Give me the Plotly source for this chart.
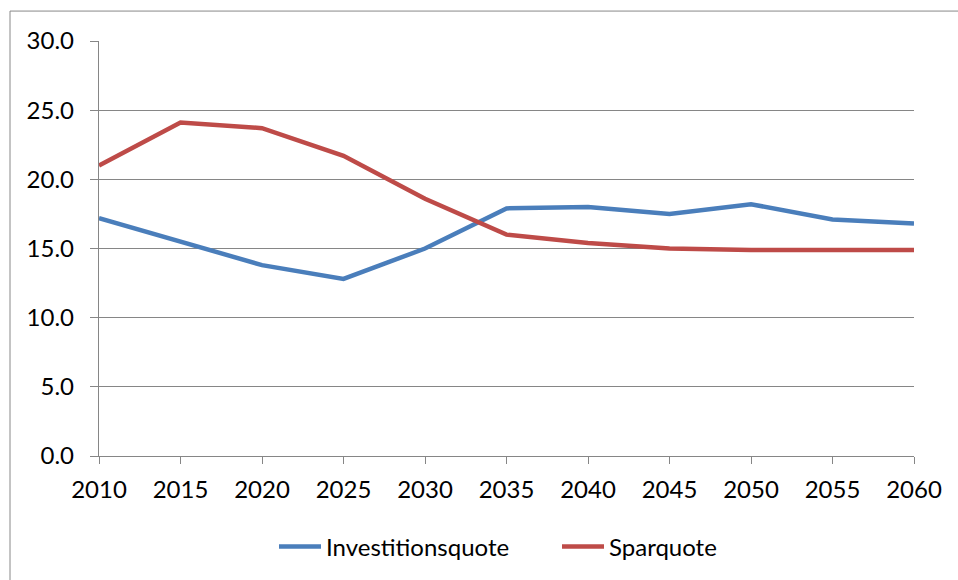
import plotly.graph_objects as go

years = [2010, 2015, 2020, 2025, 2030, 2035, 2040, 2045, 2050, 2055, 2060]
investitionsquote = [17.2, 15.5, 13.8, 12.8, 15.0, 17.9, 18.0, 17.5, 18.2, 17.1, 16.8]
sparquote = [21.0, 24.1, 23.7, 21.7, 18.6, 16.0, 15.4, 15.0, 14.9, 14.9, 14.9]
y_ticks = [0, 5, 10, 15, 20, 25, 30]

W, H = 958, 580
L, R, T, B = 99, 914, 41, 457
pw, ph = R - L, B - T

def px(x):
    return (x - L) / pw

def py(y):
    return (B - y) / ph

font = "Lato, 'Open Sans', sans-serif"

fig = go.Figure()
fig.add_trace(go.Scatter(x=years, y=investitionsquote, mode="lines", name="Investitionsquote",
                         line=dict(color="#4A7EBB", width=4.5)))
fig.add_trace(go.Scatter(x=years, y=sparquote, mode="lines", name="Sparquote",
                         line=dict(color="#BE4B48", width=4.5)))

fig.update_layout(
    width=W, height=H,
    margin=dict(l=L, r=W - R, t=T, b=H - B, pad=0),
    paper_bgcolor="white", plot_bgcolor="white",
    font=dict(family=font, size=24, color="#000000"),
    showlegend=True,
    legend=dict(orientation="h", x=px(274), xanchor="left", y=py(547), yanchor="middle",
                font=dict(size=24), itemwidth=42, entrywidth=226, entrywidthmode="pixels",
                tracegroupgap=0, bgcolor="rgba(0,0,0,0)"),
    xaxis=dict(range=[2010, 2060], tickvals=years, ticks="outside", ticklen=7,
               tickcolor="#868686", tickwidth=1.4, showgrid=False, showline=True,
               linecolor="#868686", linewidth=1.4, zeroline=False, tickfont=dict(size=24),
               ticklabelstandoff=5),
    yaxis=dict(range=[0, 30], tickvals=y_ticks, tickformat=".1f", ticks="outside", ticklen=8,
               tickcolor="#868686", tickwidth=1.4, showgrid=True, gridcolor="#868686",
               gridwidth=1.4, showline=True, linecolor="#868686", linewidth=1.4,
               zeroline=False, tickfont=dict(size=24), ticklabelstandoff=11),
    shapes=[
        dict(type="line", xref="paper", yref="paper", x0=px(10), x1=px(960), y0=py(11), y1=py(11),
             line=dict(color="#888888", width=1)),
        dict(type="line", xref="paper", yref="paper", x0=px(10), x1=px(10), y0=py(11), y1=py(582),
             line=dict(color="#888888", width=1)),
    ],
)

fig.write_html("out.html", config={"displayModeBar": False},
               post_script="document.body.style.margin='0';document.body.style.overflow='hidden';")
